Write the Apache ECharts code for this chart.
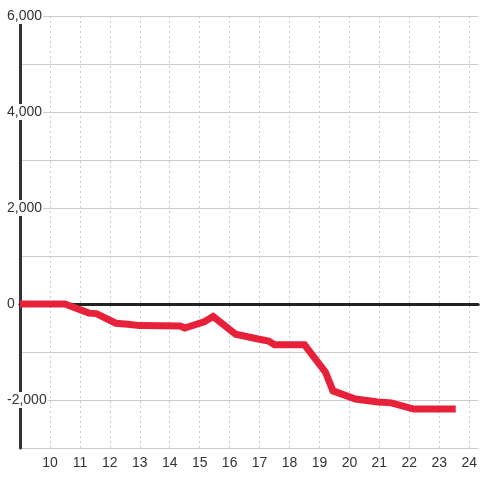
<!DOCTYPE html>
<html>
<head>
<meta charset="utf-8">
<script src="https://cdn.jsdelivr.net/npm/echarts@6/dist/echarts.min.js"></script>
<style>html,body{margin:0;padding:0;background:#fff;overflow:hidden}#c{width:480px;height:480px}</style>
</head>
<body>
<div id="c"></div>
<script>
var xValues = [9, 10.5, 11.3, 11.55, 12.2, 12.6, 13.0, 14.35, 14.5, 15.15, 15.45, 16.2, 16.95, 17.3, 17.5, 18.5, 19.2, 19.45, 20.2, 20.95, 21.4, 22.15, 23.55];
var yValues = [0, 0, -190, -200, -400, -420, -450, -460, -500, -370, -260, -630, -730, -770, -850, -850, -1420, -1810, -1980, -2040, -2060, -2190, -2190];
var yTickLabels = [-2000, 0, 2000, 4000, 6000];
var xTickLabels = [10, 11, 12, 13, 14, 15, 16, 17, 18, 19, 20, 21, 22, 23, 24];

var seriesData = xValues.map(function (x, i) { return [x, yValues[i]]; });
var chart = echarts.init(document.getElementById('c'));
var font = 'Liberation Sans, Arial, sans-serif';
chart.setOption({
  animation: false,
  backgroundColor: '#fff',
  grid: { left: 20, right: 0, top: 16, bottom: 32, containLabel: false },
  xAxis: [{
    type: 'value', min: 9, max: 24.3, interval: 1,
    axisLine: { show: false, onZero: false },
    axisTick: { show: false },
    axisLabel: {
      margin: 8, color: '#333', fontSize: 14, fontFamily: font,
      showMinLabel: false, showMaxLabel: false,
      formatter: function (v) { return xTickLabels.indexOf(v) >= 0 ? String(v) : ''; }
    },
    splitLine: { show: false }
  }, {
    type: 'value', min: 9, max: 24.3, position: 'bottom',
    axisLine: { show: true, onZero: true, lineStyle: { color: '#222', width: 3 } },
    axisTick: { show: false }, axisLabel: { show: false }, splitLine: { show: false }
  }],
  yAxis: {
    type: 'value', min: -3000, max: 6000, interval: 1000,
    axisLine: { show: true, onZero: false, lineStyle: { color: '#333', width: 3 } },
    axisTick: { show: false },
    axisLabel: {
      align: 'left', margin: 14, color: '#333', fontSize: 14, fontFamily: font,
      backgroundColor: '#fff', padding: [1, 1, 1, 1],
      formatter: function (v) { return yTickLabels.indexOf(v) >= 0 ? v.toLocaleString('en-US') : ''; }
    },
    splitLine: { show: true, lineStyle: { color: '#cccccc', width: 1 } }
  },
  series: [{
    type: 'line', xAxisIndex: 0, data: seriesData, symbol: 'none',
    lineStyle: { color: '#e8213a', width: 7, cap: 'butt', join: 'miter' },
    z: 5,
    markLine: {
      silent: true, symbol: 'none', z: 1, animation: false,
      label: { show: false },
      lineStyle: { color: '#c8c8c8', width: 1, type: [2, 3] },
      emphasis: { disabled: true },
      data: xTickLabels.map(function (v) { return { xAxis: v }; })
    }
  }]
});
</script>
</body>
</html>
